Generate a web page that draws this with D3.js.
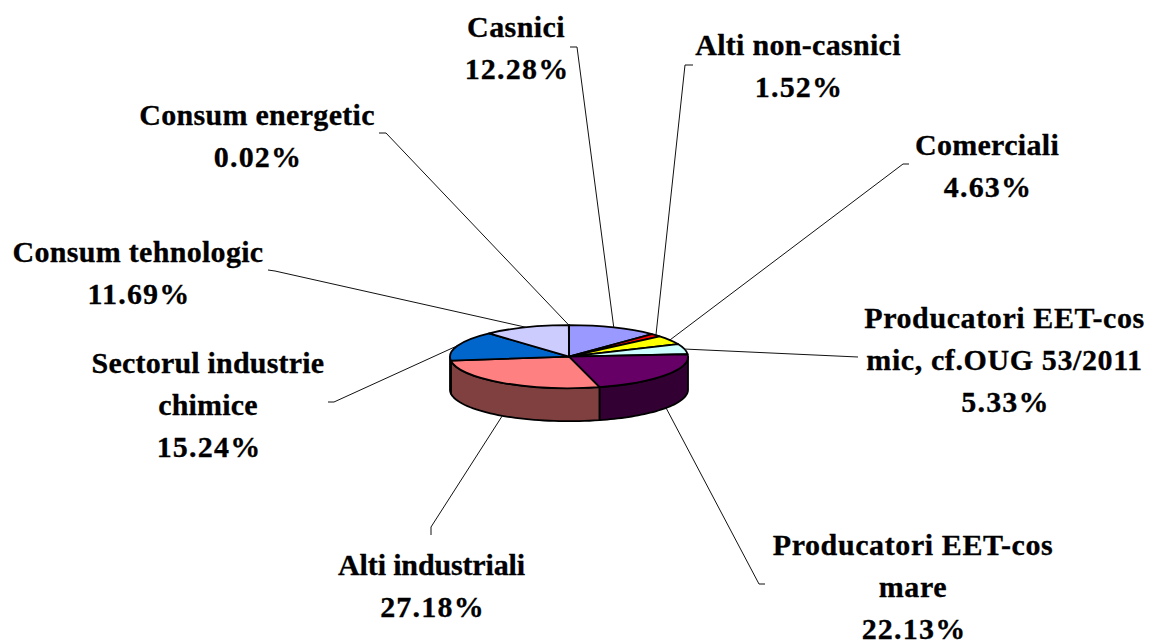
<!DOCTYPE html>
<html>
<head>
<meta charset="utf-8">
<title>Pie</title>
<script src="https://cdn.jsdelivr.net/npm/d3@7"></script>
<style>
  body { margin: 0; background: #fff; }
  text { font-family: "Liberation Serif", serif; font-weight: bold; font-size: 30px; fill: #000; stroke: #000; stroke-width: 0.3px; }
</style>
</head>
<body>
<script>
// Data, clockwise from the top of the pie
var categories = ["Casnici", "Alti non-casnici", "Comerciali", "Producatori EET-cos mic, cf.OUG 53/2011",
    "Producatori EET-cos mare", "Alti industriali", "Sectorul industrie chimice", "Consum tehnologic", "Consum energetic"];
var values = [12.28, 1.52, 4.63, 5.33, 22.13, 27.18, 15.24, 11.69, 0.02];

// How each category name wraps on the chart
var labelLines = [["Casnici"], ["Alti non-casnici"], ["Comerciali"], ["Producatori EET-cos", "mic, cf.OUG 53/2011"],
    ["Producatori EET-cos", "mare"], ["Alti industriali"], ["Sectorul industrie", "chimice"], ["Consum tehnologic"], ["Consum energetic"]];

// Styles
var topColors = ["#9999FF", "#FF0000", "#FFFF00", "#CCFFFF", "#660066", "#FF8080", "#0066CC", "#CCCCFF", "#000080"];
var sideColors = ["#4D4D80", "#800000", "#808000", "#668080", "#330033", "#804040", "#003366", "#666680", "#000040"];

// Label layout: text centre, first baseline, letter spacing of the names, leader tail and elbow
var labelX = [516, 798, 987, 1004.5, 913, 431.5, 208, 138, 257];
var labelY = [37, 55, 155, 328, 555, 575, 373, 262, 125];
var nameSpacing = [0.4, 0.3, 0.3, 0.6, 0.6, -0.15, 0.2, 0.3, 0.3];
var percentSpacing = 1.2;
var leaderTail = [[570, 47], [693, 65], [909, 164], [858, 357], [765, 584], [431, 535], [328, 402], [268, 270], [379, 133]];
var leaderElbow = [[577, 47], [685, 65], [903, 164], null, [759, 584], [431, 527], [334, 402], [275, 271], [386, 133]];

var lineGap = 41.8;

// Pie geometry
var cx = 569, cy = 356.7, rx = 119, ry = 31.5, depth = 33;

var svg = d3.select("body").append("svg")
    .attr("width", 1149)
    .attr("height", 641);

var pie = d3.pie().sort(null).value(function(d) { return d; });
var slices = pie(values);

// Point on the rim of the tilted pie, angle is clockwise from the top
function rim(a, drop) {
    return [cx + rx * Math.sin(a), cy - ry * Math.cos(a) + drop];
}

// Front wall, only the part of the rim facing the viewer
function wallPath(d) {
    var a0 = Math.max(d.startAngle, Math.PI / 2);
    var a1 = Math.min(d.endAngle, Math.PI * 3 / 2);
    if (a1 <= a0) return null;
    var pts = d3.range(0, 41).map(function(i) { return a0 + (a1 - a0) * i / 40; });
    var top = pts.map(function(a) { return rim(a, 0); });
    var bottom = pts.slice().reverse().map(function(a) { return rim(a, depth); });
    return d3.line()(top.concat(bottom)) + "Z";
}

svg.append("g").selectAll("path")
    .data(slices)
    .enter().append("path")
    .attr("d", wallPath)
    .attr("fill", function(d, i) { return sideColors[i]; })
    .attr("stroke", "#000")
    .attr("stroke-width", 1.8)
    .attr("stroke-linejoin", "round");

// Top of the pie, a flat arc squashed into an ellipse
var arc = d3.arc().innerRadius(0).outerRadius(rx);

svg.append("g")
    .attr("transform", "translate(" + cx + "," + cy + ") scale(1," + (ry / rx) + ")")
    .selectAll("path")
    .data(slices)
    .enter().append("path")
    .attr("d", arc)
    .attr("fill", function(d, i) { return topColors[i]; })
    .attr("stroke", "#000")
    .attr("stroke-width", 1.8)
    .attr("stroke-linejoin", "round")
    .attr("vector-effect", "non-scaling-stroke");

// Leader lines end on the rim at the middle of each slice
svg.append("g").selectAll("path")
    .data(slices)
    .enter().append("path")
    .attr("d", function(d, i) {
        var mid = (d.startAngle + d.endAngle) / 2;
        var front = Math.cos(mid) < 0;
        var pts = [leaderTail[i]];
        if (leaderElbow[i]) pts.push(leaderElbow[i]);
        pts.push(rim(mid, front ? depth : 0));
        return d3.line()(pts);
    })
    .attr("fill", "none")
    .attr("stroke", "#111")
    .attr("stroke-width", 1);

// Labels: wrapped name plus percentage
var fmt = d3.format(".2f");

var labels = svg.append("g").selectAll("text")
    .data(categories)
    .enter().append("text")
    .attr("text-anchor", "middle");

labels.each(function(name, i) {
    var t = d3.select(this);
    labelLines[i].forEach(function(line, j) {
        t.append("tspan")
            .attr("x", labelX[i])
            .attr("y", labelY[i] + j * lineGap)
            .attr("letter-spacing", nameSpacing[i])
            .text(line);
    });
    t.append("tspan")
        .attr("x", labelX[i] + 1)
        .attr("y", labelY[i] + labelLines[i].length * lineGap)
        .attr("letter-spacing", percentSpacing)
        .text(fmt(values[i]) + "%");
});
</script>
</body>
</html>
